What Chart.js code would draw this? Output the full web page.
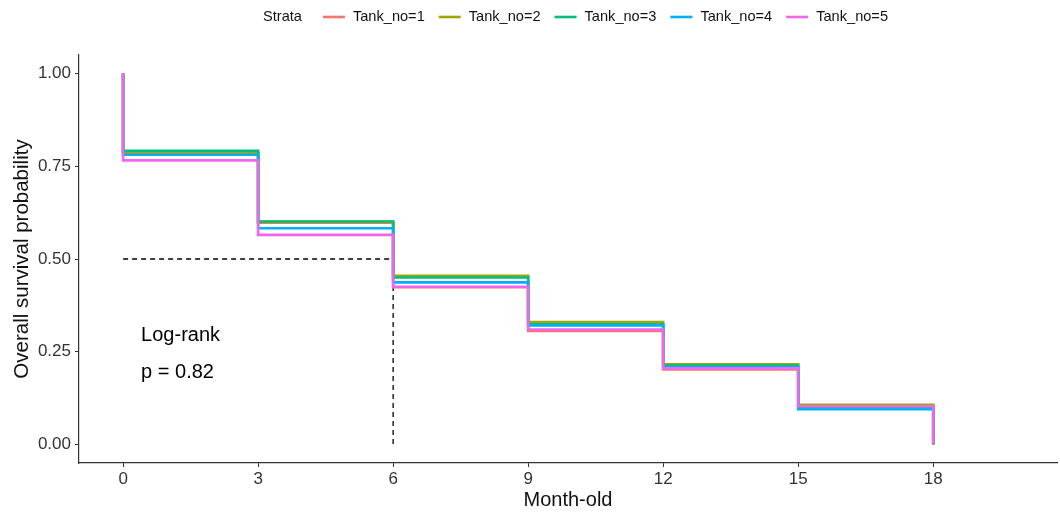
<!DOCTYPE html>
<html>
<head>
<meta charset="utf-8">
<script src="https://cdn.jsdelivr.net/npm/chart.js@4.4.1/dist/chart.umd.min.js"></script>
<style>
  body { margin: 0; background: #fff; }
  #wrap { width: 1060px; height: 515px; position: relative; }
</style>
</head>
<body>
<div id="wrap"><canvas id="grafico"></canvas></div>
<script>
// time points of the KM steps (0 twice: start at 1 then drop; 18 twice: end drop)
const meses = [0, 0, 3, 6, 9, 12, 15, 18, 18];
const tanque1 = [1, 0.785, 0.598, 0.424, 0.306, 0.202, 0.104, 0.104, 0];
const tanque2 = [1, 0.787, 0.600, 0.455, 0.330, 0.216, 0.107, 0.107, 0];
const tanque3 = [1, 0.792, 0.601, 0.450, 0.324, 0.213, 0.100, 0.100, 0];
const tanque4 = [1, 0.781, 0.583, 0.437, 0.321, 0.209, 0.095, 0.095, 0];
const tanque5 = [1, 0.766, 0.565, 0.425, 0.310, 0.205, 0.103, 0.103, 0];
const nomes = ['Tank_no=1', 'Tank_no=2', 'Tank_no=3', 'Tank_no=4', 'Tank_no=5'];
const cores = ['#F8766D', '#A3A500', '#00BF7D', '#00B0F6', '#F066EE'];
const medianaX = [0, 6, 6];
const medianaY = [0.5, 0.5, 0];
const xTicks = [0, 3, 6, 9, 12, 15, 18];
const yTicks = [0, 0.25, 0.5, 0.75, 1];

const series = [tanque1, tanque2, tanque3, tanque4, tanque5];
const fonte = 'Liberation Sans, Arial, sans-serif';

const datasets = series.map((s, i) => ({
    label: nomes[i],
    data: meses.map((m, j) => ({ x: m, y: s[j] })),
    borderColor: cores[i],
    backgroundColor: cores[i],
    borderWidth: 2.6,
    pointRadius: 0,
    stepped: 'before',
    fill: false,
    order: 5 - i
}));

datasets.push({
    label: 'mediana',
    data: medianaX.map((m, j) => ({ x: m, y: medianaY[j] })),
    borderColor: '#000',
    borderWidth: 1.3,
    borderDash: [5, 4],
    pointRadius: 0,
    fill: false,
    order: 10
});

// legend drawn by hand so that "Strata" sits on the same row
const legendaStrata = {
    id: 'legendaStrata',
    afterDraw(chart) {
        const ctx = chart.ctx;
        ctx.save();
        ctx.font = '14.6px ' + fonte;
        ctx.textBaseline = 'middle';
        ctx.fillStyle = '#111';
        const y = 17;
        let x = 263;
        ctx.fillText('Strata', x, y);
        x += ctx.measureText('Strata').width + 21;
        nomes.forEach((n, i) => {
            ctx.strokeStyle = cores[i];
            ctx.lineWidth = 2.6;
            ctx.beginPath();
            ctx.moveTo(x, y);
            ctx.lineTo(x + 22, y);
            ctx.stroke();
            x += 30;
            ctx.fillText(n, x, y);
            x += ctx.measureText(n).width + 14;
        });
        // log-rank text
        ctx.font = '20px ' + fonte;
        ctx.textBaseline = 'alphabetic';
        ctx.fillStyle = '#000';
        const xs = chart.scales.x, ys = chart.scales.y;
        ctx.fillText('Log-rank', xs.getPixelForValue(0.4), ys.getPixelForValue(0.278));
        ctx.fillText('p = 0.82', xs.getPixelForValue(0.4), ys.getPixelForValue(0.178));
        ctx.restore();
    }
};

new Chart(document.getElementById('grafico'), {
    type: 'line',
    data: { datasets: datasets },
    options: {
        responsive: true,
        maintainAspectRatio: false,
        animation: false,
        layout: { padding: { top: 55, right: 3, left: 0, bottom: 0 } },
        plugins: {
            legend: { display: false },
            tooltip: { enabled: false }
        },
        scales: {
            x: {
                type: 'linear',
                min: -0.98,
                max: 20.75,
                afterBuildTicks: s => { s.ticks = xTicks.map(v => ({ value: v })); },
                afterFit: s => { s.height = 52; },
                grid: { drawOnChartArea: false, drawTicks: true, tickLength: 4, color: '#333', lineWidth: 1 },
                border: { display: true, color: '#333', width: 1.2 },
                ticks: { color: '#333', font: { family: fonte, size: 17 }, padding: 2, maxRotation: 0 },
                title: { display: true, text: 'Month-old', color: '#111', font: { family: fonte, size: 20 }, padding: { top: 0, bottom: 3 } }
            },
            y: {
                type: 'linear',
                min: -0.05,
                max: 1.05,
                afterBuildTicks: s => { s.ticks = yTicks.map(v => ({ value: v })); },
                afterFit: s => { s.width = 79; },
                grid: { drawOnChartArea: false, drawTicks: true, tickLength: 4, color: '#333', lineWidth: 1 },
                border: { display: true, color: '#333', width: 1.2 },
                ticks: { color: '#333', font: { family: fonte, size: 17 }, padding: 4, callback: v => v.toFixed(2) },
                title: { display: true, text: 'Overall survival probability', color: '#111', font: { family: fonte, size: 20.5 }, padding: { top: 10, bottom: 0 } }
            }
        }
    },
    plugins: [legendaStrata]
});
</script>
</body>
</html>
